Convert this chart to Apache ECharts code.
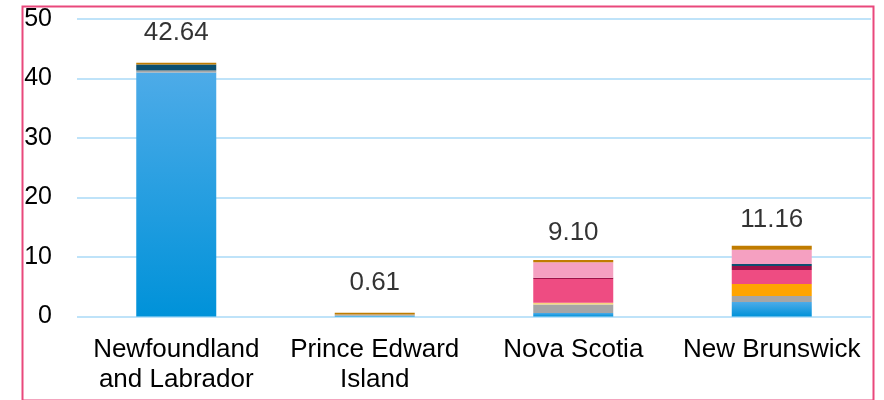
<!DOCTYPE html>
<html><head><meta charset="utf-8">
<script src="https://cdn.jsdelivr.net/npm/echarts@6/dist/echarts.min.js"></script>
<style>html,body{margin:0;padding:0;background:#fff}#c{width:884px;height:400px}</style>
</head><body><div id="c"></div>
<script>
const categories = ['Newfoundland\nand Labrador', 'Prince Edward\nIsland', 'Nova Scotia', 'New Brunswick'];
const totals = [42.64, 0.61, 9.10, 11.16];
const seriesNames = ['S1', 'S2', 'S3', 'S4', 'S5', 'S6', 'S7', 'S8', 'S9'];
const s1 = [41.0, 0.12, 0.6, 2.44];
const s2 = [0.35, 0.2, 1.4, 1.01];
const s3 = [0, 0, 0, 2.02];
const s4 = [0, 0, 0.3, 0];
const s5 = [0, 0, 4.0, 2.36];
const s6 = [0, 0, 0.2, 0.67];
const s7 = [1.0, 0, 0, 0.34];
const s8 = [0, 0, 2.6, 2.36];
const s9 = [0.29, 0.29, 0.4, 0.67];
const seriesValues = [s1, s2, s3, s4, s5, s6, s7, s8, s9];
const yTicks = [0, 10, 20, 30, 40, 50];

const FONT = 'Liberation Sans, Arial, sans-serif';
const blueGrad = new echarts.graphic.LinearGradient(0, 0, 0, 1, [
  {offset: 0, color: '#4dabe8'}, {offset: 1, color: '#0092d9'}
]);
const colors = [blueGrad, '#a6a6a6', '#ffa400', '#f6d47c', '#ee4c82', '#9f1248', '#0c5071', '#f5a0c1', '#c07c00'];

const chart = echarts.init(document.getElementById('c'));
const series = seriesValues.map((vals, i) => ({
  name: seriesNames[i], type: 'bar', stack: 'total', data: vals,
  barWidth: 80, itemStyle: {color: colors[i]}, silent: true
}));
series.push({
  type: 'scatter', data: totals, symbolSize: 0, silent: true,
  label: {show: true, position: 'top', distance: 17, color: '#000',
    fontSize: 26, fontFamily: FONT,
    formatter: p => p.value.toFixed(2)}
});
chart.setOption({
  animation: false,
  backgroundColor: '#fff',
  grid: {left: 77, right: 13, top: 19, bottom: 83.5, containLabel: false},
  xAxis: {
    type: 'category', data: categories,
    axisLine: {show: false}, axisTick: {show: false},
    axisLabel: {fontSize: 26, color: '#000', fontFamily: FONT,
      lineHeight: 30, margin: 18, interval: 0}
  },
  yAxis: {
    type: 'value', min: yTicks[0], max: yTicks[yTicks.length - 1], interval: 10,
    axisLine: {show: false}, axisTick: {show: false},
    splitLine: {lineStyle: {color: '#bfe3f9', width: 2}},
    axisLabel: {fontSize: 25, color: '#000', fontFamily: FONT, margin: 25}
  },
  graphic: [{
    type: 'rect', left: 20, top: 4, silent: true, z: 100,
    shape: {x: 0, y: 0, width: 851, height: 394},
    style: {fill: 'none', stroke: '#e9487c', lineWidth: 2}
  }],
  series: series
});
</script></body></html>
